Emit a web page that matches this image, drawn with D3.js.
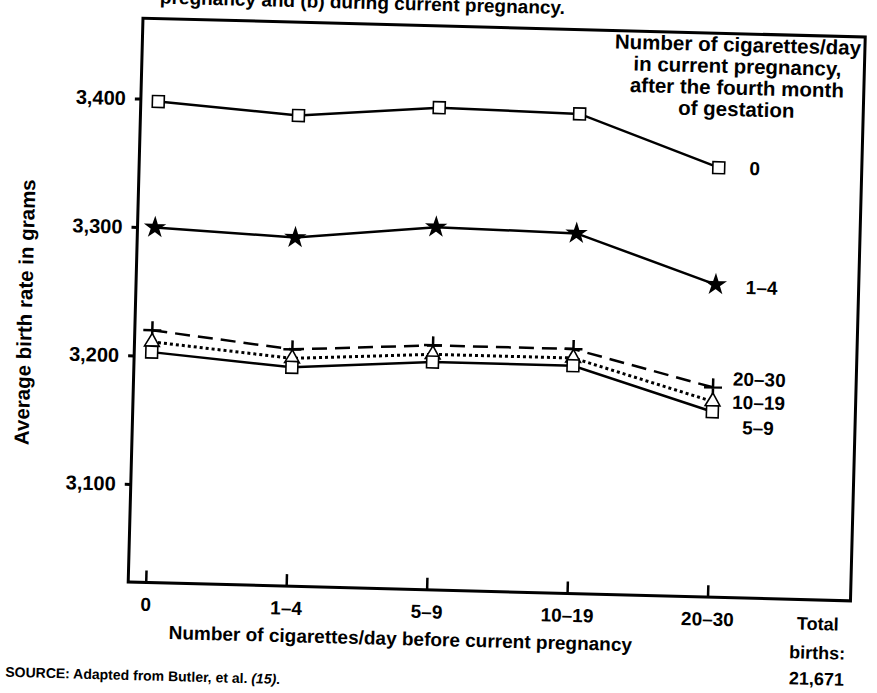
<!doctype html>
<html lang="en">
<head>
<meta charset="UTF-8" />
<title>Average birth weight by cigarettes/day</title>
<style>
  body { margin: 0; background: #fff; }
  svg { display: block; }
  text { font-family: "Liberation Sans", Arial, sans-serif; font-weight: bold; fill: #000; }
</style>
</head>
<body>
<svg id="chart" width="877" height="693"></svg>
<script src="https://d3js.org/d3.v7.min.js"></script>
<script>
// categories on the x axis: cigarettes/day before current pregnancy
const beforeCats = ["0", "1–4", "5–9", "10–19", "20–30"];
const yTicks = [3100, 3200, 3300, 3400];

// one line per amount smoked in current pregnancy (after 4th month)
const series0 = [3398, 3390, 3399, 3397, 3358];
const series1to4 = [3300, 3295, 3306, 3304, 3267];
const series20to30 = [3220, 3208, 3214, 3214, 3187];
const series10to19 = [3211, 3201, 3207, 3207, 3176];
const series5to9 = [3203, 3194, 3201, 3201, 3168];

const legendTitle = ["Number of cigarettes/day", "in current pregnancy,", "after the fourth month", "of gestation"];
const totalBirths = ["Total", "births:", "21,671"];

const series = [
  { name: "0", values: series0, marker: "square", dash: null },
  { name: "1–4", values: series1to4, marker: "star", dash: null },
  { name: "20–30", values: series20to30, marker: "plus", dash: "15,8" },
  { name: "10–19", values: series10to19, marker: "triangle", dash: "3,3" },
  { name: "5–9", values: series5to9, marker: "square", dash: null }
];

// label nudges at the right end of each line (dx, dy)
const labelNudge = { "0": [36, 0], "1–4": [46, 2], "20–30": [46, -9], "10–19": [46, 0], "5–9": [46, 15] };

const svg = d3.select("#chart");
// the scanned page is slightly tilted
const g = svg.append("g").attr("transform", "rotate(1.5 438 346)");

const frame = { left: 134.5, right: 857, top: 26, bottom: 590 };

const x = d3.scalePoint().domain(beforeCats).range([152, 714]);
const y = d3.scaleLinear().domain([3100, 3400]).range([492, 106.4]);

// fragment of the caption, cut off by the page top
g.append("text")
  .attr("x", 556).attr("y", 11)
  .attr("text-anchor", "end")
  .attr("font-size", 19)
  .text("pregnancy and (b) during current pregnancy.");

g.append("rect")
  .attr("x", frame.left).attr("y", frame.top)
  .attr("width", frame.right - frame.left)
  .attr("height", frame.bottom - frame.top)
  .attr("fill", "none").attr("stroke", "#000").attr("stroke-width", 3);

const yAxis = g.append("g")
  .attr("transform", `translate(${frame.left},0)`)
  .call(d3.axisLeft(y).tickValues(yTicks).tickSize(6).tickPadding(9).tickFormat(d3.format(",")));
yAxis.select(".domain").remove();
yAxis.selectAll("line").attr("stroke-width", 3);
yAxis.selectAll("text").attr("font-size", 20).attr("font-family", null);

const xAxis = g.append("g")
  .attr("transform", `translate(0,${frame.bottom})`)
  .call(d3.axisBottom(x).tickSize(-12).tickPadding(15));
xAxis.select(".domain").remove();
xAxis.selectAll("line").attr("stroke-width", 2.5);
xAxis.selectAll("text").attr("font-size", 19).attr("font-family", null);

g.append("text")
  .attr("transform", "translate(24,323) rotate(-90)")
  .attr("text-anchor", "middle").attr("dy", "0.35em")
  .attr("font-size", 20.5)
  .text("Average birth rate in grams");

g.append("text")
  .attr("x", 408).attr("y", 646)
  .attr("text-anchor", "middle")
  .attr("font-size", 19)
  .text("Number of cigarettes/day before current pregnancy");

g.append("g").selectAll("text")
  .data(totalBirths)
  .join("text")
  .attr("x", 825)
  .attr("y", (d, i) => [620, 649, 675][i])
  .attr("text-anchor", "middle")
  .attr("font-size", 18)
  .text(d => d);

g.append("g").selectAll("text")
  .data(legendTitle)
  .join("text")
  .attr("x", 730)
  .attr("y", (d, i) => 44 + i * 21.5)
  .attr("text-anchor", "middle")
  .attr("font-size", 20.5)
  .text(d => d);

const source = g.append("text").attr("x", 14).attr("y", 688).attr("font-size", 14);
source.append("tspan").text("SOURCE:  Adapted from Butler, et al. ");
source.append("tspan").attr("font-style", "italic").text("(15)");
source.append("tspan").text(".");

const line = d3.line()
  .x((d, i) => x(beforeCats[i]))
  .y(d => y(d));

const markerPath = {
  square: d3.symbol(d3.symbolSquare, 140)(),
  triangle: d3.symbol(d3.symbolTriangle, 95)(),
  star: d3.symbol(d3.symbolStar, 95)(),
  plus: "M-9,0H9M0,-9V9"
};

series.forEach(s => {
  const sg = g.append("g");
  sg.append("path")
    .datum(s.values)
    .attr("d", line)
    .attr("fill", "none")
    .attr("stroke", "#000")
    .attr("stroke-width", s.dash === "3,3" ? 3 : 2.5)
    .attr("stroke-dasharray", s.dash);

  sg.selectAll("path.mark")
    .data(s.values)
    .join("path")
    .attr("class", "mark")
    .attr("transform", (d, i) => `translate(${x(beforeCats[i])},${y(d)})`)
    .attr("d", markerPath[s.marker])
    .attr("fill", s.marker === "star" ? "#000" : s.marker === "plus" ? "none" : "#fff")
    .attr("stroke", "#000")
    .attr("stroke-width", s.marker === "plus" ? 2.5 : 1.6);

  const last = s.values[s.values.length - 1];
  const [dx, dy] = labelNudge[s.name];
  sg.append("text")
    .attr("x", x(beforeCats[beforeCats.length - 1]) + dx)
    .attr("y", y(last) + dy)
    .attr("dy", "0.35em")
    .attr("text-anchor", "middle")
    .attr("font-size", 19)
    .text(s.name);
});
</script>
</body>
</html>
